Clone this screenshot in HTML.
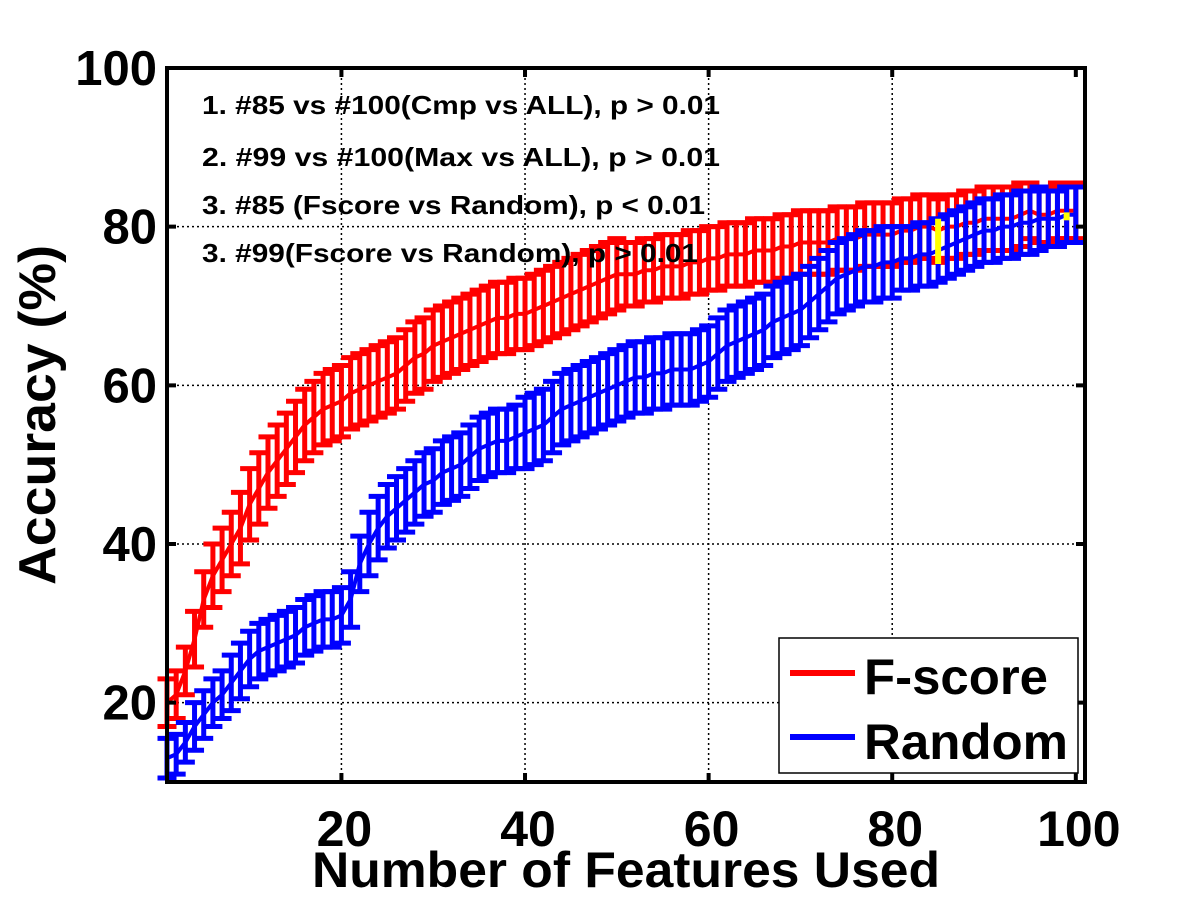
<!DOCTYPE html>
<html><head><meta charset="utf-8"><style>
html,body{margin:0;padding:0;background:#fff;}
svg{display:block;font-family:"Liberation Sans",Arial,sans-serif;font-weight:bold;}
</style></head><body>
<svg id="chart" width="1201" height="901" viewBox="0 0 1201 901" xmlns="http://www.w3.org/2000/svg">
<rect x="0" y="0" width="1201" height="901" fill="#fff"/>
<g id="grid"></g>
<g id="series"></g>
<g id="axes"></g>
<g font-size="26">
<text x="202" y="114" textLength="518" lengthAdjust="spacingAndGlyphs">1. #85 vs #100(Cmp vs ALL), p &gt; 0.01</text>
<text x="202" y="166" textLength="518" lengthAdjust="spacingAndGlyphs">2. #99 vs #100(Max vs ALL), p &gt; 0.01</text>
<text x="202" y="214" textLength="503" lengthAdjust="spacingAndGlyphs">3. #85 (Fscore vs Random), p &lt; 0.01</text>
<text x="202" y="262" textLength="496" lengthAdjust="spacingAndGlyphs">3. #99(Fscore vs Random), p &gt; 0.01</text>
</g>
<g>
<rect x="779" y="638" width="299" height="135" fill="#fff" stroke="#000" stroke-width="1.5"/>
<line x1="790" y1="673" x2="855" y2="673" stroke="#f00" stroke-width="6"/>
<text x="864" y="694" font-size="50" textLength="184" lengthAdjust="spacingAndGlyphs">F-score</text>
<line x1="790" y1="737" x2="855" y2="737" stroke="#00f" stroke-width="6"/>
<text x="864" y="759" font-size="50" textLength="204" lengthAdjust="spacingAndGlyphs">Random</text>
</g>
<text x="626" y="887" font-size="50" text-anchor="middle" textLength="628" lengthAdjust="spacingAndGlyphs">Number of Features Used</text>
<text transform="translate(55,415) rotate(-90)" font-size="52" text-anchor="middle" textLength="340" lengthAdjust="spacingAndGlyphs">Accuracy (%)</text>
</svg>
<script>
const xTicks=[20,40,60,80,100];
const yTicks=[20,40,60,80,100];
const features=[];for(let i=1;i<=100;i++)features.push(i);
const fscoreMean=[20,21,24,28,33,36,38,40,42,45,47,49,50.5,52,53.5,55,56,57,57.5,58,59,59.5,60,60.5,61,61.5,62.5,63.5,64,65,65.5,66,66.5,67,67.5,68,68.5,68.5,69,69,69.5,70,70.5,71,71.5,72,72.5,73,73.5,74,74,74,74.5,74.5,75,75,75,75.5,75.5,76,76,76.5,76.5,76.5,77,77,77,77.5,77.5,78,78,78,78,78.5,78.5,78.5,79,79,79,79,79.5,79.5,80,80,79.5,80,80,80.5,80.5,81,81,81,81,81.5,82,81.5,81.5,82,82,82];
const fscoreErr=[3,3,3,3.5,3.5,4,4,4,4.5,4.5,4.5,4.5,4.5,4.5,4.5,4.5,4.5,4.5,4.5,4.5,4.5,4.5,4.5,4.5,4.5,4.5,4.5,4.5,4.5,4.5,4.5,4.5,4.5,4.5,4.5,4.5,4.5,4.5,4.5,4.5,4.5,4.5,4.5,4.5,4.5,4.5,4.5,4.5,4.5,4.5,4,4,4,4,4,4,4,4,4,4,4,4,4,4,4,4,4,4,4,4,4,4,4,4,4,4,4,4,4,4,4,4,4,4,4,4,4,4,4,4,4,4,4,4,3.5,3.5,3.5,3.5,3.5,3.5];
const randomMean=[13,13.5,15,17,18.5,20,21,22.5,24,25.5,26.5,27,27.5,28,28.5,29.5,30,30.5,30.5,31,33,37.5,40,42,43.5,44.5,45.5,46.5,47.5,48,49,49.5,50,51,52,52.5,53,53,53.5,54,54.5,55,56,57,57.5,58,58.5,59,59.5,60,60.5,61,61,61.5,61.5,62,62,62,62.5,63,64,65,65.5,66,66.5,67,68,68.5,69,69.5,70.5,71.5,72.5,73.5,74,74.5,75,75,75.5,75.5,76,76,76.5,76.5,77,77.5,78,78.5,79,79.5,79.5,80,80,80.5,80.5,81,81,81,81.5,81.5];
const randomErr=[2.5,2.5,2.5,3,3,3,3,3.5,3.5,3.5,3.5,3.5,3.5,3.5,3.5,3.5,3.5,3.5,3.5,3.5,3.5,3.5,4,4,4,4,4,4,4,4,4,4,4,4,4,4,4,4,4,4.5,4.5,4.5,4.5,4.5,4.5,4.5,4.5,4.5,4.5,4.5,4.5,4.5,4.5,4.5,4.5,4.5,4.5,4.5,4.5,4.5,4.5,4.5,4.5,4.5,4.5,4.5,4.5,4.5,4.5,4.5,4.5,4.5,4.5,4.5,4.5,4.5,4.5,4.5,4.5,4.5,4,4,4,4,4,4,4,4,4,4,4,4,4,4,4,4,3.5,3.5,3.5,3.5];
const sigFeatures=[85,99];
const sigLow=[75.3,80.8];
const sigHigh=[81,81.8];

const NS='http://www.w3.org/2000/svg';
const L=167,R=1085,T=68,B=782;
const xMin=1,xMax=101,yMin=10,yMax=100;
const xs=v=>L+(v-xMin)/(xMax-xMin)*(R-L);
const ys=v=>B-(v-yMin)/(yMax-yMin)*(B-T);
function mk(tag,attrs,parent){const e=document.createElementNS(NS,tag);for(const k in attrs)e.setAttribute(k,attrs[k]);parent.appendChild(e);return e;}
const grid=document.getElementById('grid'),series=document.getElementById('series'),axes=document.getElementById('axes');
xTicks.forEach(t=>{if(t<100){const g=mk('line',{x1:xs(t),x2:xs(t),y1:T,y2:B,stroke:'#000','stroke-width':1.5,'stroke-dasharray':'2,3'},grid);

}});
yTicks.forEach(t=>{if(t<100){const g=mk('line',{x1:L,x2:R,y1:ys(t),y2:ys(t),stroke:'#000','stroke-width':1.5,'stroke-dasharray':'2,3'},grid);

}});
function drawSeries(mean,err,color,name){
  const grp=mk('g',{},series);
  
  
  features.forEach((f,i)=>{
    const x=xs(f),lo=ys(mean[i]-err[i]),hi=ys(mean[i]+err[i]);
    const p=mk('path',{d:`M${x},${lo}V${hi}M${x-9.5},${lo}H${x+9.5}M${x-9.5},${hi}H${x+9.5}`,stroke:color,'stroke-width':5,fill:'none'},grp);
    
    
  });
  const d=features.map((f,i)=>(i?'L':'M')+xs(f)+','+ys(mean[i])).join('');
  const ln=mk('path',{d:d,stroke:color,'stroke-width':4,fill:'none'},grp);
  
  
}
drawSeries(fscoreMean,fscoreErr,'#f00','fscore');
drawSeries(randomMean,randomErr,'#00f','random');
sigFeatures.forEach((f,i)=>{
  const y=mk('line',{x1:xs(f),x2:xs(f),y1:ys(sigLow[i]),y2:ys(sigHigh[i]),stroke:'#ff0','stroke-width':6},series);
  
  
});
const box=mk('rect',{x:L,y:T,width:R-L,height:B-T,fill:'none',stroke:'#000','stroke-width':4},axes);


xTicks.forEach(t=>{
  const tk=mk('path',{d:`M${xs(t)},${B}V${B-9}M${xs(t)},${T}V${T+9}`,stroke:'#000','stroke-width':4},axes);
  
  
  const lb=mk('text',{x:xs(t)+3,y:846,'font-size':50,'text-anchor':'middle'},axes);
  lb.textContent=t;
  
  
});
yTicks.forEach(t=>{
  const tk=mk('path',{d:`M${L},${ys(t)}H${L+9}M${R},${ys(t)}H${R-9}`,stroke:'#000','stroke-width':4},axes);
  
  
  const lb=mk('text',{x:157,y:ys(t)+17,'font-size':49,'text-anchor':'end'},axes);
  lb.textContent=t;
  
  
});
</script>
</body></html>
